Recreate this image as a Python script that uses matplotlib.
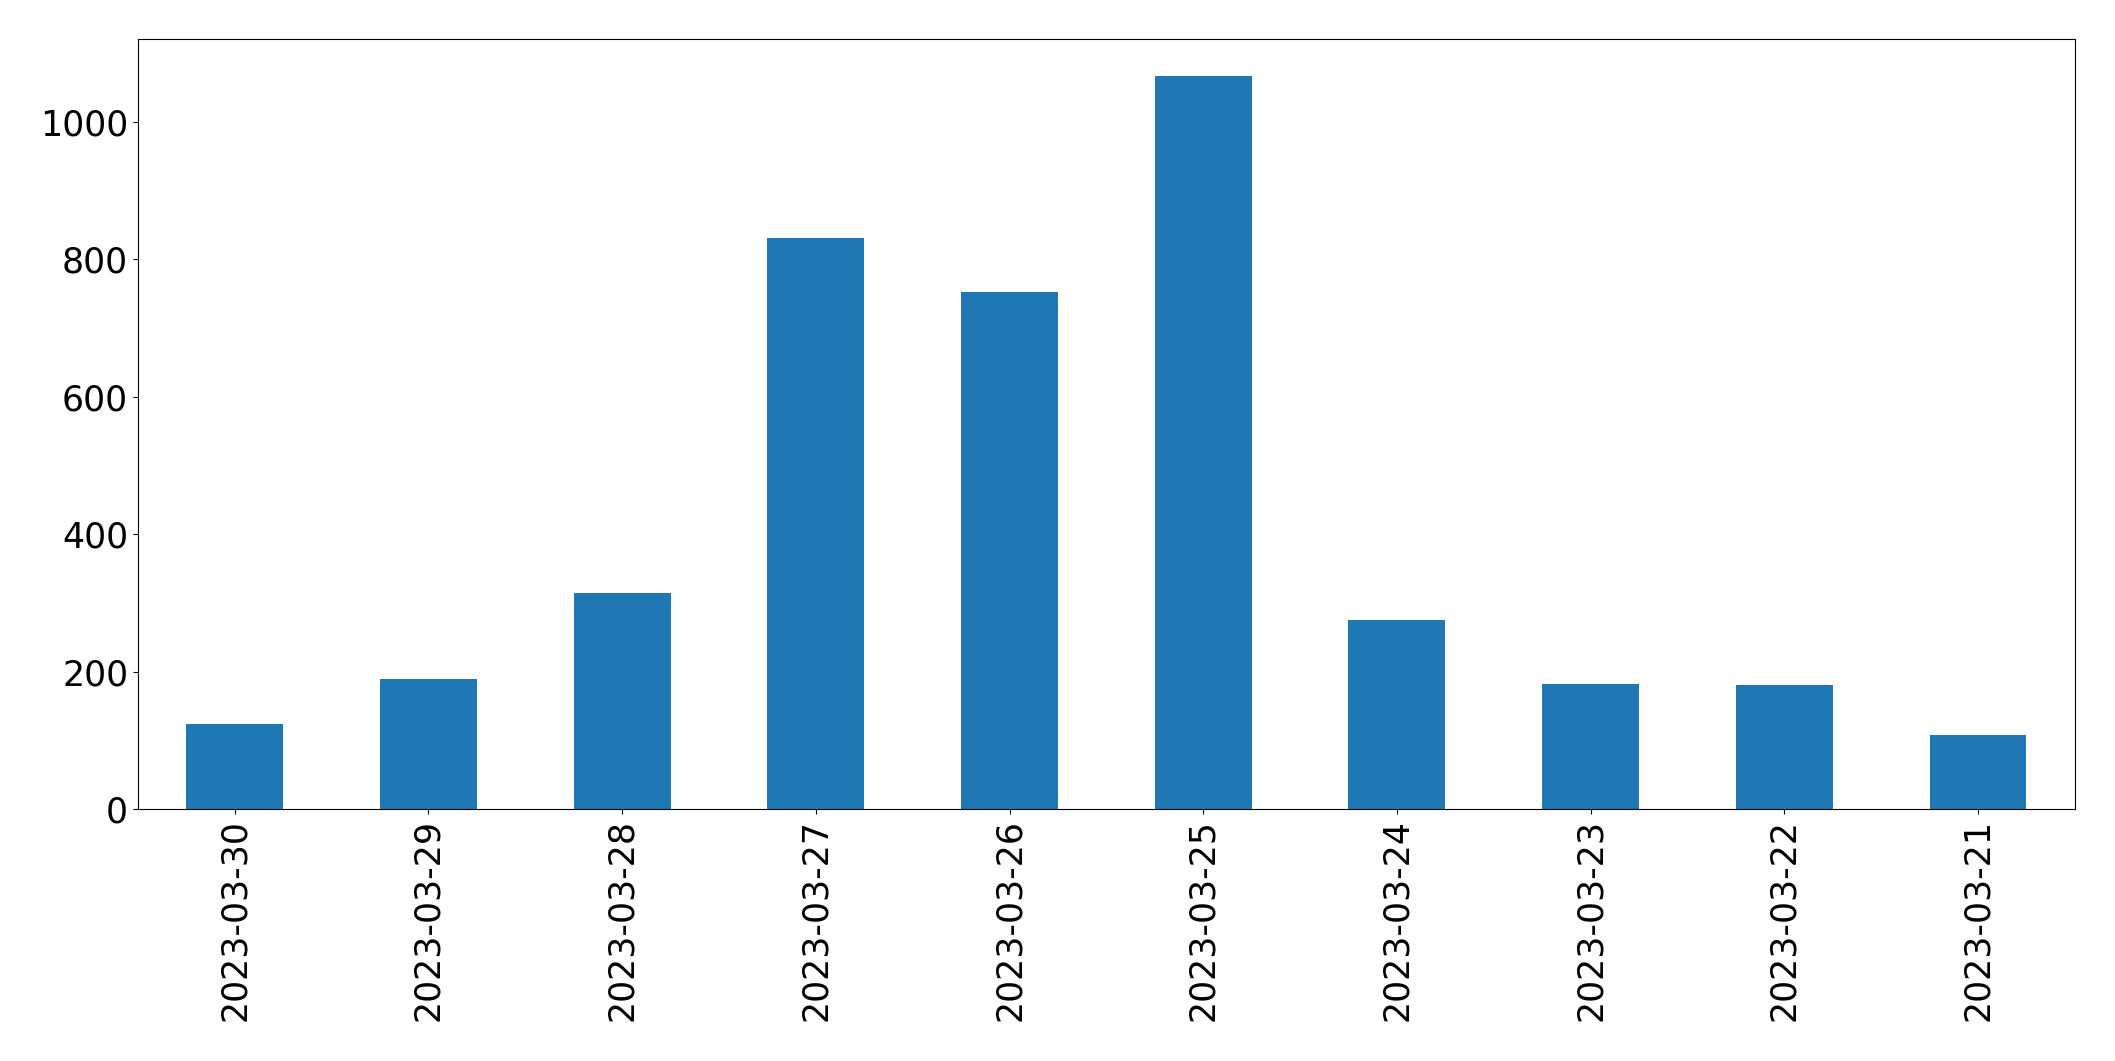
import matplotlib
matplotlib.use('Agg')
import matplotlib.pyplot as plt
import pandas as pd

dates = ['2023-03-30', '2023-03-29', '2023-03-28', '2023-03-27', '2023-03-26',
         '2023-03-25', '2023-03-24', '2023-03-23', '2023-03-22', '2023-03-21']
counts = [124, 189, 314, 831, 752, 1067, 275, 182, 180, 107]

data = pd.Series(counts, index=dates)

plt.rcParams['font.size'] = 25

fig = plt.figure(figsize=(21.15, 10.61), dpi=100)
ax = fig.add_subplot(111)
data.plot.bar(ax=ax, color='#1f77b4')
ax.tick_params(axis='x', rotation=90)
fig.subplots_adjust(left=0.0652, right=0.981, top=0.963, bottom=0.2375)
fig.savefig('out.png', dpi=100)
